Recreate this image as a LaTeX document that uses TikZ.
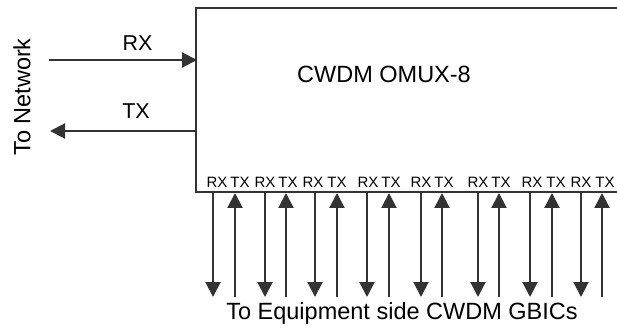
\documentclass[tikz,border=0pt]{standalone}
\usepackage{fontspec}
\setmainfont{Liberation Sans}
\usetikzlibrary{arrows.meta}
\definecolor{ln}{HTML}{333333}
\tikzset{
  wire/.style={draw=ln, line width=2pt},
  arr/.style={wire, -{Triangle[length=15pt,width=15pt]}},
  big/.style={font=\fontsize{23.5}{26}\selectfont, inner sep=0pt, text=black},
  mid/.style={font=\fontsize{21.5}{24}\selectfont, inner sep=0pt, text=black},
  small/.style={font=\fontsize{15}{17}\selectfont, inner sep=0pt, text=black, anchor=base},
}
\begin{document}
\begin{tikzpicture}[x=1pt,y=-1pt]
\useasboundingbox (0,0) rectangle (617,328);
% box (open on the right)
\coordinate (tr) at (617,8);
\coordinate (tl) at (196,8);
\coordinate (bl) at (196,192);
\coordinate (br) at (617,192);
\draw[wire] (tr) -- (tl) -- (bl) -- (br);
\node[big] (title) at (384,74) {CWDM OMUX-8};
% network side
\coordinate (rxs) at (49,60);
\coordinate (rxe) at (197,60);
\coordinate (txs) at (196,131);
\coordinate (txe) at (50,131);
\draw[arr] (rxs) -- (rxe);
\draw[arr] (txs) -- (txe);
\node[mid] (rxl) at (137.5,43) {RX};
\node[mid] (txl) at (136,111) {TX};
\node[big, rotate=90] (net) at (22,97) {To Network};
% equipment side
\foreach \i/\xr/\xt/\lr/\lt in {1/213/235/217/240, 2/265/286/265/288, 3/315/337/313/337, 4/367/389/368/391, 5/421/442/421/444, 6/478/499/478/501, 7/530/552/532/556, 8/581/602/581/605}{
  \node[small] (r\i) at (\lr,188) {RX};
  \node[small] (t\i) at (\lt,188) {TX};
  \coordinate (rt\i) at (\xr,193);
  \coordinate (rb\i) at (\xr,297);
  \coordinate (tt\i) at (\xt,193);
  \coordinate (tb\i) at (\xt,297);
  \draw[arr] (rt\i) -- (rb\i);
  \draw[arr] (tb\i) -- (tt\i);
}
\node[big] (eq) at (402,313) {To Equipment side CWDM GBICs};
\end{tikzpicture}
\end{document}
